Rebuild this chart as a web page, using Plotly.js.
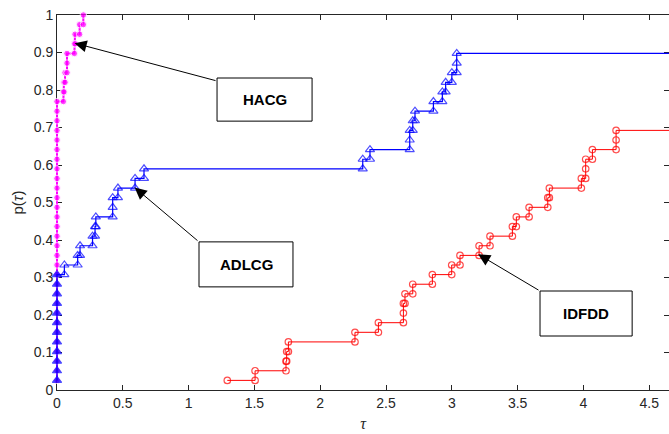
<!DOCTYPE html>
<html>
<head>
<meta charset="utf-8">
<script src="https://cdn.plot.ly/plotly-3.0.1.min.js"></script>
<style>html,body{margin:0;padding:0;background:#fff;}#chart{width:669px;height:434px;}</style>
</head>
<body>
<div id="chart"></div>
<script>
// number of test problems
const nProblems = 39;
// sorted performance ratios (tau) of solved problems per method
const tauHACG = [0,0,0,0,0,0,0,0,0,0,0,0,0,0,0,0,0,0,0,0,0,0,0,0,0,0,0,0,0,0,
  0.048,0.053,0.061,0.076,0.076,0.132,0.137,0.172,0.2];
const tauADLCG = [0,0,0,0,0,0,0,0,0,0,0,0,
  0.056,0.157,0.175,0.27,0.289,0.295,0.423,0.423,0.463,0.593,0.661,
  2.323,2.378,2.68,2.68,2.703,2.72,2.86,2.928,2.953,3.0,3.037,3.037];
const tauIDFDD = [1.294,1.505,1.74,1.745,1.758,2.264,2.442,2.632,2.632,2.644,2.703,
  2.852,2.999,3.062,3.207,3.29,3.46,3.49,3.587,3.729,3.741,3.984,4.017,4.017,4.068,4.248,4.248];
const tauMax = 6; // failed problems: profile stays flat to the largest ratio
const seriesNames = ['HACG','ADLCG','IDFDD'];
const xTicks = [0,0.5,1,1.5,2,2.5,3,3.5,4,4.5];
const yTicks = [0,0.1,0.2,0.3,0.4,0.5,0.6,0.7,0.8,0.9,1];
const xMax = 4.65;

function stairs(tau, extend) {
  const xs = [], ys = [], m = [];
  for (let i = 0; i < tau.length; i++) {
    if (i > 0 && tau[i] !== tau[i-1]) { xs.push(tau[i]); ys.push(i / nProblems); m.push(true); }
    xs.push(tau[i]); ys.push((i + 1) / nProblems); m.push(true);
  }
  if (extend) { xs.push(tauMax); ys.push(tau.length / nProblems); m.push(false); }
  return {x: xs, y: ys, m: m};
}

const sH = stairs(tauHACG, false);
const sA = stairs(tauADLCG, true);
const sI = stairs(tauIDFDD, true);

// geometry: plot box from 57px to 669px; traces drawn on a slightly wider, hidden subplot so lines at tau=0 are not clipped
const W = 669, H = 434, ML = 50, PL = 57;
const plotW = W - PL;
const pxPerUnit = plotW / xMax;
const dom0 = (PL - ML) / (W - ML);
const x2min = -(PL - ML) / pxPerUnit;

const common = {mode: 'lines+markers', cliponaxis: false, xaxis: 'x2', yaxis: 'y2'};
const traces = [
  Object.assign({x: sH.x, y: sH.y, name: seriesNames[0],
   line: {color: '#ff00ff', width: 2},
   marker: {symbol: 'circle', size: sH.m.map(v => v ? 6.5 : 0), color: '#ff00ff'}}, common),
  Object.assign({x: sA.x, y: sA.y, name: seriesNames[1],
   line: {color: '#0000ff', width: 1.2},
   marker: {symbol: sA.x.map(v => v === 0 ? 'triangle-up' : 'triangle-up-open'), size: sA.m.map(v => v ? 8 : 0),
            color: '#0000ff', line: {width: 1.2, color: '#0000ff'}}}, common),
  Object.assign({x: sI.x, y: sI.y, name: seriesNames[2],
   line: {color: '#ff0000', width: 1},
   marker: {symbol: 'circle-open', size: sI.m.map(v => v ? 6.5 : 0), color: '#ff0000', line: {width: 1.2, color: '#ff0000'}}}, common)
];

const font = 'Arial, "Liberation Sans", Helvetica, sans-serif';
const boxes = [
  {name: seriesNames[0], x0: 1.216, x1: 1.938, y0: 0.717, y1: 0.832, tx: 1.216, ty: 0.824, hx: 0.134, hy: 0.925},
  {name: seriesNames[1], x0: 1.079, x1: 1.793, y0: 0.275, y1: 0.395, tx: 1.079, ty: 0.395, hx: 0.59, hy: 0.54},
  {name: seriesNames[2], x0: 3.670, x1: 4.370, y0: 0.144, y1: 0.264, tx: 3.670, ty: 0.264, hx: 3.2, hy: 0.362}
];
const shapes = boxes.map(b => ({type: 'rect', xref: 'x', yref: 'y', x0: b.x0, x1: b.x1, y0: b.y0, y1: b.y1,
  line: {color: '#000', width: 1}, fillcolor: '#fff', layer: 'above'}));
const annotations = [];
boxes.forEach(b => {
  annotations.push({x: (b.x0 + b.x1) / 2, y: (b.y0 + b.y1) / 2, xref: 'x', yref: 'y', text: '<b>' + b.name + '</b>',
    showarrow: false, font: {family: font, size: 15, color: '#000'}});
  annotations.push({x: b.hx, y: b.hy, xref: 'x', yref: 'y', ax: b.tx, ay: b.ty, axref: 'x', ayref: 'y', text: '',
    showarrow: true, arrowhead: 2, arrowsize: 2.4, arrowwidth: 1, arrowcolor: '#000', standoff: 0, startstandoff: 0});
});

const layout = {
  width: W, height: H,
  margin: {l: ML, r: 0, t: 15, b: 44},
  paper_bgcolor: '#fff', plot_bgcolor: 'rgba(0,0,0,0)',
  showlegend: false,
  font: {family: font, size: 14, color: '#262626'},
  xaxis: {domain: [dom0, 1], range: [0, xMax], tickvals: xTicks, ticktext: xTicks.map(String), ticks: 'inside', ticklen: 5,
    tickcolor: '#262626', showline: true, linecolor: '#262626', linewidth: 1, mirror: 'ticks', layer: 'below traces',
    showgrid: false, zeroline: false, tickfont: {size: 14, color: '#262626'},
    title: {text: '<i>τ</i>', font: {family: '"Times New Roman", "Liberation Serif", serif', size: 16, color: '#262626'}, standoff: 8}},
  yaxis: {range: [0, 1], tickvals: yTicks, ticktext: yTicks.map(String), ticks: 'inside', ticklen: 5,
    tickcolor: '#262626', showline: true, linecolor: '#262626', linewidth: 1, mirror: 'ticks', layer: 'below traces',
    showgrid: false, zeroline: false, tickfont: {size: 14, color: '#262626'},
    title: {text: 'p(<i>τ</i>)', font: {size: 15, color: '#262626'}, standoff: 6}},
  xaxis2: {domain: [0, 1], range: [x2min, xMax], anchor: 'y2', visible: false, showgrid: false, zeroline: false},
  yaxis2: {domain: [0, 1], range: [0, 1], anchor: 'x2', visible: false, showgrid: false, zeroline: false},
  shapes: shapes,
  annotations: annotations
};

Plotly.newPlot('chart', traces, layout, {staticPlot: true, displayModeBar: false});
</script>
</body>
</html>
